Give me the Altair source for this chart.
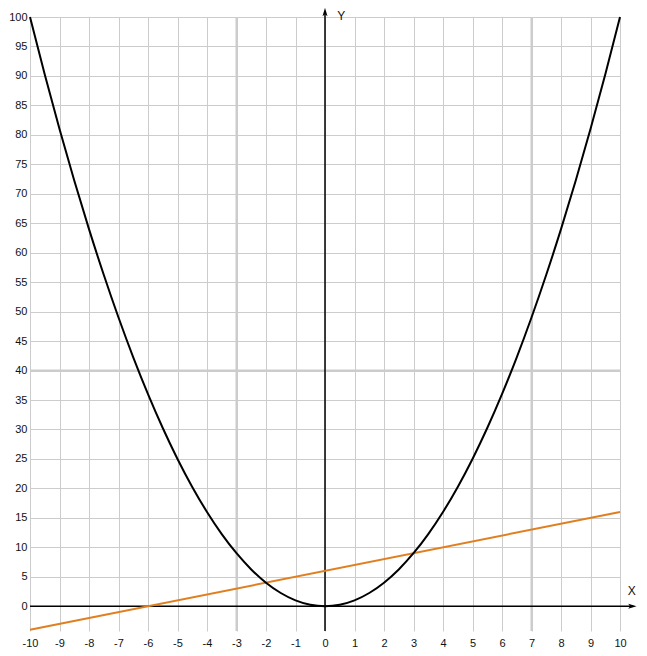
import altair as alt
import pandas as pd

# ---- data ----
x_ticks = list(range(-10, 11))
y_ticks = list(range(0, 101, 5))
thick_x = [-3, 7]
thick_y = [40]

curve_x = [v / 2 for v in range(-20, 21)]
curve_y = [100, 90.25, 81, 72.25, 64, 56.25, 49, 42.25, 36, 30.25, 25, 20.25, 16,
           12.25, 9, 6.25, 4, 2.25, 1, 0.25, 0, 0.25, 1, 2.25, 4, 6.25, 9, 12.25,
           16, 20.25, 25, 30.25, 36, 42.25, 49, 56.25, 64, 72.25, 81, 90.25, 100]

line_x = [-10, 10]
line_y = [-4, 16]

x_domain = [-10, 10]
y_domain = [-4.2, 100]

xaxis_x = [-10, 10.45]
yaxis_y = [-4.2, 100.8]
x_arrow = [10.42, 0]
y_arrow = [0, 100.85]

W, H = 590, 614

curve_df = pd.DataFrame({"x": curve_x, "y": curve_y})
line_df = pd.DataFrame({"x": line_x, "y": line_y})

xs = alt.Scale(domain=x_domain, nice=False, zero=False)
ys = alt.Scale(domain=y_domain, nice=False, zero=False)

lab = dict(labelFont="Liberation Sans", labelFontSize=11, labelColor="#111111",
           labelExpr="'' + datum.value", labelOverlap=False, labelFlush=False)

ax_x = alt.Axis(values=x_ticks, grid=True, gridColor="#cccccc", gridWidth=1,
                domain=False, ticks=False, labelPadding=6, title=None, **lab)
ax_y = alt.Axis(values=y_ticks, grid=True, gridColor="#cccccc", gridWidth=1,
                domain=False, ticks=False, labelPadding=3, title=None, **lab)


def X(f="x:Q"):
    return alt.X(f, scale=xs, axis=ax_x)


def Y(f="y:Q"):
    return alt.Y(f, scale=ys, axis=ax_y)


grid_layer = alt.Chart(curve_df).mark_line(opacity=0).encode(x=X(), y=Y())

thick_v = alt.Chart(pd.DataFrame({"x": thick_x})).mark_rule(
    color="#cccccc", strokeWidth=2).encode(x=X(), y=alt.value(0), y2=alt.value(H))
thick_h = alt.Chart(pd.DataFrame({"y": thick_y})).mark_rule(
    color="#cccccc", strokeWidth=2).encode(y=Y(), x=alt.value(0), x2=alt.value(W))

xaxis_line = alt.Chart(pd.DataFrame({"x": [xaxis_x[0]], "x2": [xaxis_x[1]], "y": [0]})).mark_rule(
    color="black", strokeWidth=1.5).encode(x=X(), x2="x2:Q", y=Y())
yaxis_line = alt.Chart(pd.DataFrame({"x": [0], "y": [yaxis_y[0]], "y2": [yaxis_y[1]]})).mark_rule(
    color="black", strokeWidth=1.5).encode(x=X(), y=Y(), y2="y2:Q")

arrow_shape = "M-1,-0.6L1,0L-1,0.6L-0.55,0Z"
x_arrow_m = alt.Chart(pd.DataFrame({"x": [x_arrow[0]], "y": [x_arrow[1]]})).mark_point(
    shape=arrow_shape, filled=True, color="black", opacity=1, size=70).encode(x=X(), y=Y())
y_arrow_m = alt.Chart(pd.DataFrame({"x": [y_arrow[0]], "y": [y_arrow[1]]})).mark_point(
    shape=arrow_shape, filled=True, color="black", opacity=1, size=70, angle=270).encode(x=X(), y=Y())

x_label = alt.Chart(pd.DataFrame({"x": [10.4], "y": [2.6], "t": ["X"]})).mark_text(
    font="Liberation Sans", fontSize=12, color="#111111", align="center", baseline="middle").encode(
    x=X(), y=Y(), text="t:N")
y_label = alt.Chart(pd.DataFrame({"x": [0.55], "y": [100.25], "t": ["Y"]})).mark_text(
    font="Liberation Sans", fontSize=12, color="#111111", align="center", baseline="middle").encode(
    x=X(), y=Y(), text="t:N")

parabola = alt.Chart(curve_df).mark_line(color="black", strokeWidth=2, interpolate="monotone").encode(
    x=X(), y=Y())
straight = alt.Chart(line_df).mark_line(color="#e07f1f", strokeWidth=2).encode(x=X(), y=Y())

chart = alt.layer(
    grid_layer, thick_v, thick_h, xaxis_line, yaxis_line, x_arrow_m, y_arrow_m,
    x_label, y_label, straight, parabola
).properties(
    width=W, height=H,
    autosize=alt.AutoSizeParams(type="none"),
    padding={"left": 22, "top": 9, "right": 19, "bottom": 17},
).configure_view(strokeWidth=0)

chart.save("out.html", embed_options={"renderer": "svg", "actions": False})
